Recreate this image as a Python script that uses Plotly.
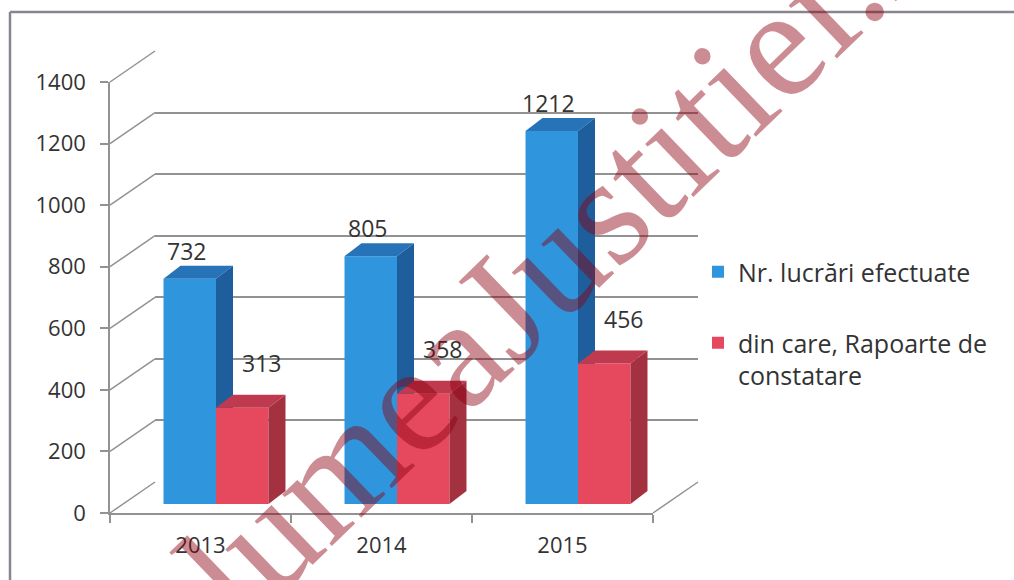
import plotly.graph_objects as go

# ---------------- data ----------------
years = ["2013", "2014", "2015"]
lucrari = [732, 805, 1212]
rapoarte = [313, 358, 456]
name_lucrari = "Nr. lucrări efectuate"
name_rapoarte = "din care, Rapoarte de<br>constatare"
y_ticks = [0, 200, 400, 600, 800, 1000, 1200, 1400]
watermark = "lumeaJustitiei.ro"

# ---------------- geometry / style (pixels) ----------------
W, H = 1014, 580
def px(x):
    return x / W
def py(y):
    return 1 - y / H

FX0, FX1 = 110, 653          # front floor edge (x)
FY0, FY1 = 513, 82           # front plane: value 0 and value YMAX (y)
YMAX = 1400
BACK_DX, BACK_DY = 45, -31   # back wall offset
BAR_DX, BAR_DY = 15.5, -9    # plane where bar fronts sit
DEPTH_DX, DEPTH_DY = 17, -13 # bar depth
BAR_W = 0.29                 # bar width in category units

scale = (FY0 - FY1) / YMAX   # px per unit
cat_px = (FX1 - FX0) / 3
ddx = DEPTH_DX / cat_px
ddy = -DEPTH_DY / scale

GRAY = "#929292"
TXT = "#333333"
FONT = "Open Sans"

BLUE = dict(front="#2F96DE", top="#2673B8", side="#1E5E9C")
RED = dict(front="#E6485E", top="#BF3A4E", side="#A33140")

fig = go.Figure()

# invisible helper traces so front and back axes exist
fig.add_trace(go.Scatter(x=years, y=[0, 0, 0], mode="markers", marker_opacity=0,
                         showlegend=False, hoverinfo="skip", xaxis="x", yaxis="y"))
fig.add_trace(go.Scatter(x=[0, 1, 2], y=[0, 0, 0], mode="markers", marker_opacity=0,
                         showlegend=False, hoverinfo="skip", xaxis="x2", yaxis="y2"))


def add_series(values, colors, offset, name, xa, ya, legend):
    fig.add_trace(go.Bar(x=[0, 1, 2], y=values, width=BAR_W, offset=offset,
                         marker=dict(color=colors["front"], line=dict(width=0)),
                         name=name, xaxis=xa, yaxis=ya, legend=legend,
                         hoverinfo="y"))
    for i, v in enumerate(values):
        xl = i + offset
        xr = xl + BAR_W
        fig.add_trace(go.Scatter(
            x=[xl, xl + ddx, xr + ddx, xr, xl], y=[v, v + ddy, v + ddy, v, v],
            mode="lines", fill="toself", fillcolor=colors["top"],
            line=dict(width=0, color=colors["top"]), showlegend=False,
            hoverinfo="skip", xaxis=xa, yaxis=ya))
        fig.add_trace(go.Scatter(
            x=[xr, xr + ddx, xr + ddx, xr, xr], y=[0, ddy, v + ddy, v, 0],
            mode="lines", fill="toself", fillcolor=colors["side"],
            line=dict(width=0, color=colors["side"]), showlegend=False,
            hoverinfo="skip", xaxis=xa, yaxis=ya))


add_series(lucrari, BLUE, -BAR_W, name_lucrari, "x3", "y3", "legend")
add_series(rapoarte, RED, 0, name_rapoarte, "x4", "y4", "legend2")

# data labels
annotations = []
for i, v in enumerate(lucrari):
    annotations.append(dict(x=i - BAR_W / 2, y=v, xref="x3", yref="y3", text=str(v),
                            showarrow=False, xshift=-3, yshift=28,
                            font=dict(family=FONT, size=23, color=TXT)))
for i, v in enumerate(rapoarte):
    annotations.append(dict(x=i + BAR_W / 2, y=v, xref="x4", yref="y4", text=str(v),
                            showarrow=False, xshift=19, yshift=45,
                            font=dict(family=FONT, size=23, color=TXT)))
# watermark
annotations.append(dict(x=px(578), y=py(236), xref="paper", yref="paper",
                        text=watermark, showarrow=False, textangle=-44,
                        font=dict(family="Liberation Serif", size=156,
                                  color="rgba(140,0,15,0.45)")))

# wall / floor edges
shapes = []
for v in y_ticks:
    yv = FY0 - v * scale
    shapes.append(dict(type="line", xref="paper", yref="paper",
                       x0=px(FX0), y0=py(yv), x1=px(FX0 + BACK_DX), y1=py(yv + BACK_DY),
                       line=dict(color=GRAY, width=1.5), layer="below"))
shapes.append(dict(type="line", xref="paper", yref="paper",
                   x0=px(FX1), y0=py(FY0), x1=px(FX1 + BACK_DX), y1=py(FY0 + BACK_DY),
                   line=dict(color=GRAY, width=1.5), layer="below"))
# outer frame
shapes.append(dict(type="line", xref="paper", yref="paper", x0=px(10), y0=py(12),
                   x1=1, y1=py(12), line=dict(color="#8a8390", width=2.5)))
shapes.append(dict(type="line", xref="paper", yref="paper", x0=px(10), y0=py(12),
                   x1=px(10), y1=0, line=dict(color="#8a8390", width=2.5)))

fig.update_layout(
    width=W, height=H, margin=dict(l=0, r=0, t=0, b=0, pad=0, autoexpand=False),
    paper_bgcolor="white", plot_bgcolor="rgba(0,0,0,0)",
    showlegend=True, annotations=annotations, shapes=shapes,
    xaxis=dict(domain=[px(FX0), px(FX1)], anchor="y", type="category",
               categoryorder="array", categoryarray=years, range=[-0.5, 2.5],
               tickson="boundaries", ticks="outside", ticklen=8, tickcolor=GRAY,
               tickwidth=1.5, showline=True, linecolor=GRAY, linewidth=1.5,
               showgrid=False, zeroline=False, ticklabelstandoff=12, automargin=False,
               tickfont=dict(family=FONT, size=22, color=TXT), fixedrange=True),
    yaxis=dict(domain=[py(FY0), py(FY1)], anchor="x", range=[0, YMAX],
               tickmode="array", tickvals=y_ticks, ticks="outside", ticklen=8,
               tickcolor=GRAY, tickwidth=1.5, showline=True, linecolor=GRAY,
               linewidth=1.5, showgrid=False, zeroline=False, ticklabelstandoff=10,
               automargin=False,
               tickfont=dict(family=FONT, size=22, color=TXT), fixedrange=True),
    xaxis2=dict(domain=[px(FX0 + BACK_DX), px(FX1 + BACK_DX)], anchor="y2",
                range=[-0.5, 2.5], visible=False, fixedrange=True, automargin=False),
    yaxis2=dict(domain=[py(FY0 + BACK_DY), py(FY1 + BACK_DY)], anchor="x2",
                range=[0, YMAX], tickmode="array", tickvals=y_ticks,
                showgrid=True, gridcolor=GRAY, gridwidth=1.5, showticklabels=False,
                ticks="", showline=False, zeroline=False, fixedrange=True,
                automargin=False),
    xaxis3=dict(domain=[px(FX0 + BAR_DX), px(FX1 + BAR_DX)], anchor="y3",
                range=[-0.5, 2.5], visible=False, fixedrange=True, automargin=False),
    yaxis3=dict(domain=[py(FY0 + BAR_DY), py(FY1 + BAR_DY)], anchor="x3",
                range=[0, YMAX], visible=False, fixedrange=True, automargin=False),
    xaxis4=dict(domain=[px(FX0 + BAR_DX), px(FX1 + BAR_DX)], anchor="y4",
                range=[-0.5, 2.5], visible=False, fixedrange=True, automargin=False),
    yaxis4=dict(domain=[py(FY0 + BAR_DY), py(FY1 + BAR_DY)], anchor="x4",
                range=[0, YMAX], visible=False, fixedrange=True, automargin=False),
    legend=dict(x=px(698), y=py(272), xanchor="left", yanchor="middle",
                bgcolor="rgba(0,0,0,0)", font=dict(family=FONT, size=25, color=TXT)),
    legend2=dict(x=px(698), y=py(320), xanchor="left", yanchor="top", valign="top",
                 bgcolor="rgba(0,0,0,0)", font=dict(family=FONT, size=25, color=TXT)),
)

fig.write_html("out.html", config={"displayModeBar": False},
               post_script="document.body.style.margin='0';"
                           "document.body.style.overflow='hidden';")
